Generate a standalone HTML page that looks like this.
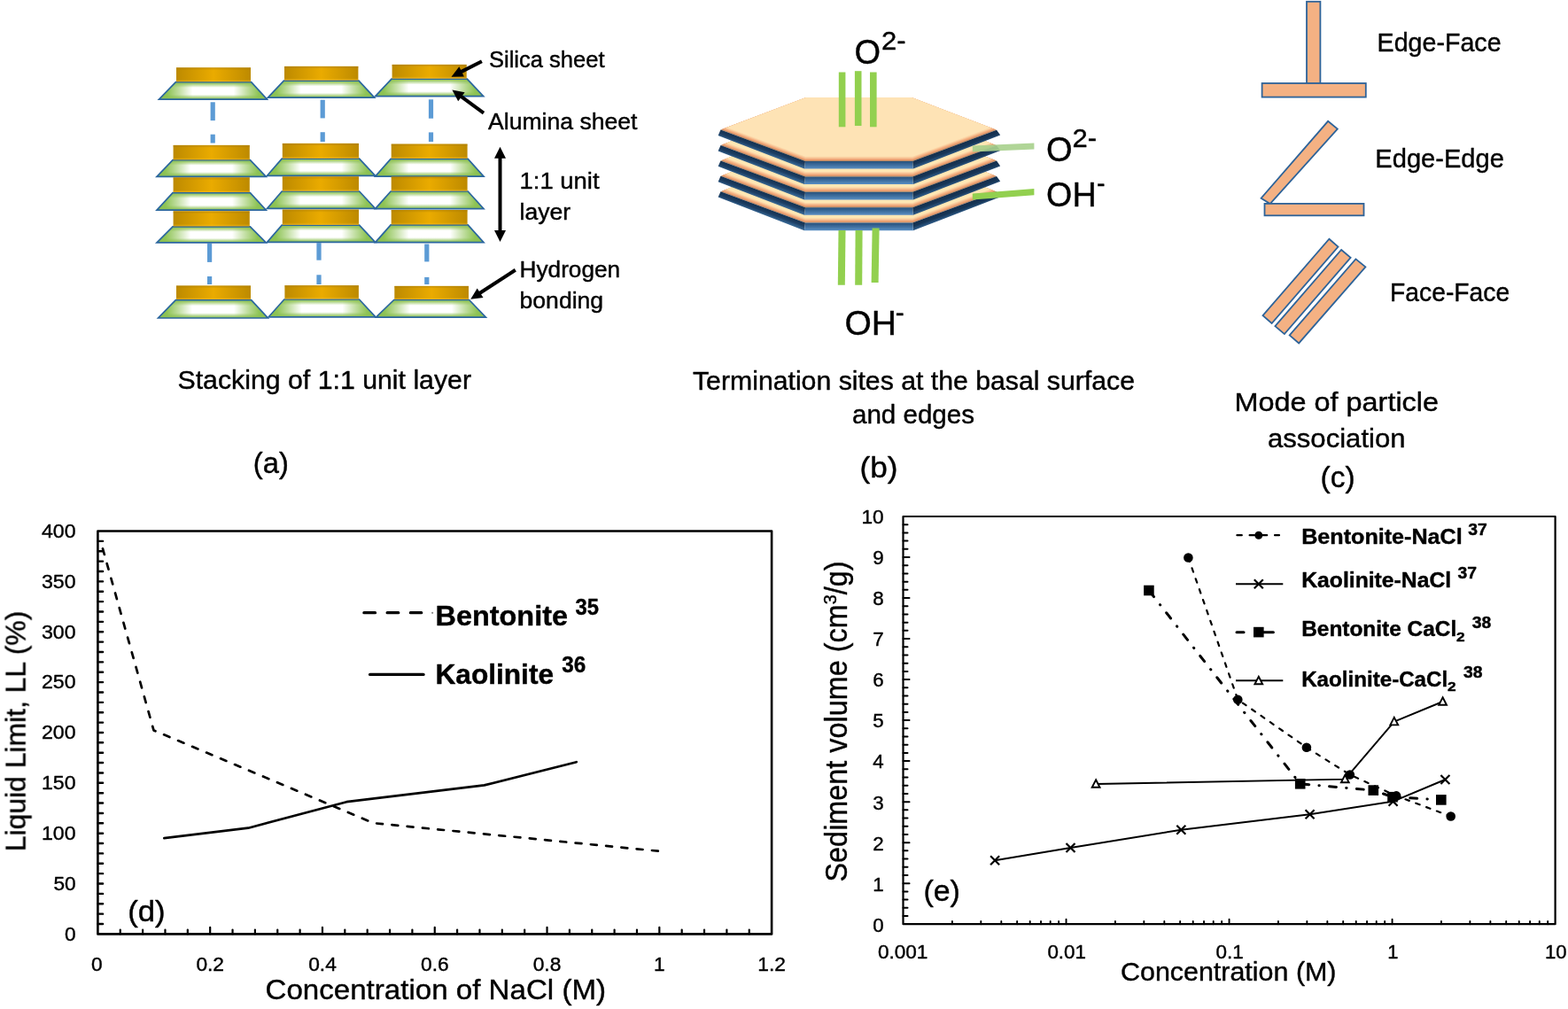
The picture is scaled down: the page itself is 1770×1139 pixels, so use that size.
<!DOCTYPE html>
<html lang="en">
<head>
<meta charset="utf-8">
<title>Clay mineral structure, particle association, liquid limit and sediment volume</title>
<style>
html,body{margin:0;padding:0;background:#fff;}
body{width:1770px;height:1139px;overflow:hidden;}
svg{display:block;font-family:"Liberation Sans", sans-serif;fill:#000;}
svg text{white-space:pre;stroke:#000;stroke-width:0.42px;stroke-linejoin:round;}
</style>
</head>
<body>
<svg width="1770" height="1139" viewBox="0 0 1770 1139"">
<defs>
<linearGradient id="gold" x1="0" y1="0" x2="1" y2="0">
 <stop offset="0" stop-color="#bd8a03"/><stop offset="0.5" stop-color="#eaab00"/><stop offset="1" stop-color="#bd8a03"/>
</linearGradient>
<linearGradient id="goldv" x1="0" y1="0" x2="0" y2="1">
 <stop offset="0" stop-color="#a67700" stop-opacity="0.55"/><stop offset="0.18" stop-color="#a67700" stop-opacity="0"/>
 <stop offset="0.85" stop-color="#ffc21a" stop-opacity="0"/><stop offset="1" stop-color="#ffc21a" stop-opacity="0.5"/>
</linearGradient>
<linearGradient id="front" x1="0" y1="0" x2="0" y2="1">
 <stop offset="0" stop-color="#27507a"/><stop offset="0.45" stop-color="#3c6b9b"/><stop offset="1" stop-color="#5a8fc4"/>
</linearGradient>
<linearGradient id="sideL" gradientUnits="userSpaceOnUse" x1="861" y1="163.8" x2="858.3" y2="171.3">
 <stop offset="0" stop-color="#14304f"/><stop offset="0.55" stop-color="#1c3d62"/><stop offset="1" stop-color="#34638f"/>
</linearGradient>
<linearGradient id="sideR" gradientUnits="userSpaceOnUse" x1="1078" y1="163.8" x2="1080.7" y2="171.3">
 <stop offset="0" stop-color="#122c4a"/><stop offset="0.6" stop-color="#193758"/><stop offset="1" stop-color="#2a5580"/>
</linearGradient>
<linearGradient id="peach" x1="0" y1="0" x2="0" y2="1">
 <stop offset="0" stop-color="#ffe6b4"/><stop offset="0.55" stop-color="#fbcb9b"/><stop offset="1" stop-color="#e9976a"/>
</linearGradient>
<linearGradient id="greenh" x1="0" y1="0" x2="1" y2="0">
 <stop offset="0" stop-color="#86bd4a"/><stop offset="0.08" stop-color="#8fc456"/><stop offset="0.19" stop-color="#c3dfa4"/><stop offset="0.31" stop-color="#ffffff"/>
 <stop offset="0.69" stop-color="#ffffff"/><stop offset="0.81" stop-color="#c3dfa4"/><stop offset="0.92" stop-color="#8fc456"/><stop offset="1" stop-color="#86bd4a"/>
</linearGradient>
<linearGradient id="greenv" x1="0" y1="0" x2="0" y2="1">
 <stop offset="0" stop-color="#8cc152" stop-opacity="1"/><stop offset="0.10" stop-color="#8cc152" stop-opacity="0.8"/><stop offset="0.32" stop-color="#8cc152" stop-opacity="0"/>
 <stop offset="0.72" stop-color="#8cc152" stop-opacity="0"/><stop offset="0.90" stop-color="#8cc152" stop-opacity="0.75"/><stop offset="1" stop-color="#8cc152" stop-opacity="1"/>
</linearGradient>
<filter id="jpeg" filterUnits="userSpaceOnUse" x="0" y="0" width="1770" height="1139"><feGaussianBlur stdDeviation="0.5"/></filter>
</defs>
<rect width="1770" height="1139" fill="#fff" stroke="none"/>
<g filter="url(#jpeg)">
<g id="panel-a">
<rect x="237.6" y="115.3" width="5.2" height="20.8" fill="#5b9bd5"/>
<rect x="237.6" y="151.7" width="5.2" height="9.8" fill="#5b9bd5"/>
<rect x="361.6" y="112.7" width="5.2" height="20.7" fill="#5b9bd5"/>
<rect x="361.6" y="149.2" width="5.2" height="10.8" fill="#5b9bd5"/>
<rect x="483.9" y="112.3" width="5.2" height="21.4" fill="#5b9bd5"/>
<rect x="483.9" y="149.4" width="5.2" height="10.6" fill="#5b9bd5"/>
<rect x="234.0" y="274.7" width="5.2" height="21.2" fill="#5b9bd5"/>
<rect x="234.0" y="312.0" width="5.2" height="9.0" fill="#5b9bd5"/>
<rect x="357.4" y="274.2" width="5.2" height="19.5" fill="#5b9bd5"/>
<rect x="357.4" y="310.3" width="5.2" height="10.7" fill="#5b9bd5"/>
<rect x="479.2" y="275.5" width="5.2" height="19.9" fill="#5b9bd5"/>
<rect x="479.2" y="312.9" width="5.2" height="8.1" fill="#5b9bd5"/>
<polygon points="198.4,92.6 283.6,92.6 301.5,112.2 179.5,112.2" fill="url(#greenh)"/>
<polygon points="198.4,92.6 283.6,92.6 301.5,112.2 179.5,112.2" fill="url(#greenv)" stroke="#2b669f" stroke-width="1.7" stroke-linejoin="miter"/>
<rect x="199.0" y="76.3" width="84.0" height="15.9" fill="url(#gold)"/>
<rect x="199.0" y="76.3" width="84.0" height="15.9" fill="url(#goldv)"/>
<polygon points="195.0,180.6 282.4,180.6 300.3,199.4 177.0,199.4" fill="url(#greenh)"/>
<polygon points="195.0,180.6 282.4,180.6 300.3,199.4 177.0,199.4" fill="url(#greenv)" stroke="#2b669f" stroke-width="1.7" stroke-linejoin="miter"/>
<rect x="195.6" y="163.9" width="86.2" height="16.4" fill="url(#gold)"/>
<rect x="195.6" y="163.9" width="86.2" height="16.4" fill="url(#goldv)"/>
<polygon points="195.0,217.6 282.4,217.6 300.3,237.2 177.0,237.2" fill="url(#greenh)"/>
<polygon points="195.0,217.6 282.4,217.6 300.3,237.2 177.0,237.2" fill="url(#greenv)" stroke="#2b669f" stroke-width="1.7" stroke-linejoin="miter"/>
<rect x="195.6" y="200.3" width="86.2" height="16.7" fill="url(#gold)"/>
<rect x="195.6" y="200.3" width="86.2" height="16.7" fill="url(#goldv)"/>
<polygon points="195.0,255.9 282.4,255.9 300.3,273.9 177.0,273.9" fill="url(#greenh)"/>
<polygon points="195.0,255.9 282.4,255.9 300.3,273.9 177.0,273.9" fill="url(#greenv)" stroke="#2b669f" stroke-width="1.7" stroke-linejoin="miter"/>
<rect x="195.6" y="238.3" width="86.2" height="17.1" fill="url(#gold)"/>
<rect x="195.6" y="238.3" width="86.2" height="17.1" fill="url(#goldv)"/>
<polygon points="198.4,338.6 283.6,338.6 302.4,359.0 178.6,359.0" fill="url(#greenh)"/>
<polygon points="198.4,338.6 283.6,338.6 302.4,359.0 178.6,359.0" fill="url(#greenv)" stroke="#2b669f" stroke-width="1.7" stroke-linejoin="miter"/>
<rect x="199.0" y="322.5" width="84.0" height="15.5" fill="url(#gold)"/>
<rect x="199.0" y="322.5" width="84.0" height="15.5" fill="url(#goldv)"/>
<polygon points="320.4,91.2 405.0,91.2 422.7,110.2 302.4,110.2" fill="url(#greenh)"/>
<polygon points="320.4,91.2 405.0,91.2 422.7,110.2 302.4,110.2" fill="url(#greenv)" stroke="#2b669f" stroke-width="1.7" stroke-linejoin="miter"/>
<rect x="321.0" y="74.9" width="83.4" height="15.7" fill="url(#gold)"/>
<rect x="321.0" y="74.9" width="83.4" height="15.7" fill="url(#goldv)"/>
<polygon points="318.2,179.2 405.6,179.2 423.6,198.3 301.5,198.3" fill="url(#greenh)"/>
<polygon points="318.2,179.2 405.6,179.2 423.6,198.3 301.5,198.3" fill="url(#greenv)" stroke="#2b669f" stroke-width="1.7" stroke-linejoin="miter"/>
<rect x="318.8" y="161.9" width="86.2" height="16.9" fill="url(#gold)"/>
<rect x="318.8" y="161.9" width="86.2" height="16.9" fill="url(#goldv)"/>
<polygon points="318.2,216.0 405.6,216.0 423.6,235.4 301.5,235.4" fill="url(#greenh)"/>
<polygon points="318.2,216.0 405.6,216.0 423.6,235.4 301.5,235.4" fill="url(#greenv)" stroke="#2b669f" stroke-width="1.7" stroke-linejoin="miter"/>
<rect x="318.8" y="199.3" width="86.2" height="16.3" fill="url(#gold)"/>
<rect x="318.8" y="199.3" width="86.2" height="16.3" fill="url(#goldv)"/>
<polygon points="318.2,254.2 405.6,254.2 423.6,273.4 301.5,273.4" fill="url(#greenh)"/>
<polygon points="318.2,254.2 405.6,254.2 423.6,273.4 301.5,273.4" fill="url(#greenv)" stroke="#2b669f" stroke-width="1.7" stroke-linejoin="miter"/>
<rect x="318.8" y="236.6" width="86.2" height="17.2" fill="url(#gold)"/>
<rect x="318.8" y="236.6" width="86.2" height="17.2" fill="url(#goldv)"/>
<polygon points="320.8,338.0 405.5,338.0 424.0,357.8 303.2,357.8" fill="url(#greenh)"/>
<polygon points="320.8,338.0 405.5,338.0 424.0,357.8 303.2,357.8" fill="url(#greenv)" stroke="#2b669f" stroke-width="1.7" stroke-linejoin="miter"/>
<rect x="321.4" y="322.2" width="83.5" height="15.2" fill="url(#gold)"/>
<rect x="321.4" y="322.2" width="83.5" height="15.2" fill="url(#goldv)"/>
<polygon points="442.0,89.2 527.3,89.2 545.7,108.7 423.6,108.7" fill="url(#greenh)"/>
<polygon points="442.0,89.2 527.3,89.2 545.7,108.7 423.6,108.7" fill="url(#greenv)" stroke="#2b669f" stroke-width="1.7" stroke-linejoin="miter"/>
<rect x="442.6" y="72.9" width="84.1" height="15.7" fill="url(#gold)"/>
<rect x="442.6" y="72.9" width="84.1" height="15.7" fill="url(#goldv)"/>
<polygon points="441.1,179.4 528.2,179.4 546.0,199.1 423.6,199.1" fill="url(#greenh)"/>
<polygon points="441.1,179.4 528.2,179.4 546.0,199.1 423.6,199.1" fill="url(#greenv)" stroke="#2b669f" stroke-width="1.7" stroke-linejoin="miter"/>
<rect x="441.7" y="162.6" width="85.9" height="16.3" fill="url(#gold)"/>
<rect x="441.7" y="162.6" width="85.9" height="16.3" fill="url(#goldv)"/>
<polygon points="441.1,216.0 528.2,216.0 546.0,235.7 423.6,235.7" fill="url(#greenh)"/>
<polygon points="441.1,216.0 528.2,216.0 546.0,235.7 423.6,235.7" fill="url(#greenv)" stroke="#2b669f" stroke-width="1.7" stroke-linejoin="miter"/>
<rect x="441.7" y="199.5" width="85.9" height="16.0" fill="url(#gold)"/>
<rect x="441.7" y="199.5" width="85.9" height="16.0" fill="url(#goldv)"/>
<polygon points="441.1,253.9 528.2,253.9 546.0,273.7 423.6,273.7" fill="url(#greenh)"/>
<polygon points="441.1,253.9 528.2,253.9 546.0,273.7 423.6,273.7" fill="url(#greenv)" stroke="#2b669f" stroke-width="1.7" stroke-linejoin="miter"/>
<rect x="441.7" y="237.0" width="85.9" height="16.4" fill="url(#gold)"/>
<rect x="441.7" y="237.0" width="85.9" height="16.4" fill="url(#goldv)"/>
<polygon points="444.7,338.5 529.6,338.5 548.4,358.1 424.5,358.1" fill="url(#greenh)"/>
<polygon points="444.7,338.5 529.6,338.5 548.4,358.1 424.5,358.1" fill="url(#greenv)" stroke="#2b669f" stroke-width="1.7" stroke-linejoin="miter"/>
<rect x="445.3" y="322.9" width="83.7" height="15.0" fill="url(#gold)"/>
<rect x="445.3" y="322.9" width="83.7" height="15.0" fill="url(#goldv)"/>
<line x1="543.9" y1="69.3" x2="519.9" y2="81.4" stroke="#000" stroke-width="4.0"/>
<polygon points="509.5,86.7 518.3,75.3 523.9,86.4" fill="#000"/>
<line x1="546.0" y1="127.7" x2="519.8" y2="108.4" stroke="#000" stroke-width="4.0"/>
<polygon points="510.4,101.5 524.6,104.2 517.2,114.2" fill="#000"/>
<line x1="581.8" y1="304.8" x2="541.0" y2="331.3" stroke="#000" stroke-width="4.0"/>
<polygon points="531.2,337.7 538.7,325.4 545.5,335.9" fill="#000"/>
<line x1="564.5" y1="177.4" x2="564.5" y2="261.4" stroke="#000" stroke-width="4.0"/>
<polygon points="564.5,273.1 558.0,260.1 571.0,260.1" fill="#000"/>
<polygon points="564.5,165.7 558.0,178.7 571.0,178.7" fill="#000"/>
<text x="552.0" y="76.2" font-size="25.2" textLength="130.5" lengthAdjust="spacingAndGlyphs">Silica sheet</text>
<text x="551.0" y="146.3" font-size="25.2" textLength="168.5" lengthAdjust="spacingAndGlyphs">Alumina sheet</text>
<text x="586.6" y="212.9" font-size="25.2" textLength="90.0" lengthAdjust="spacingAndGlyphs">1:1 unit</text>
<text x="586.6" y="247.8" font-size="25.2" textLength="57.5" lengthAdjust="spacingAndGlyphs">layer</text>
<text x="586.6" y="312.9" font-size="25.2" textLength="113.5" lengthAdjust="spacingAndGlyphs">Hydrogen</text>
<text x="586.6" y="347.8" font-size="25.2" textLength="94.5" lengthAdjust="spacingAndGlyphs">bonding</text>
<text x="200.5" y="438.8" font-size="29.3" textLength="331.5" lengthAdjust="spacingAndGlyphs">Stacking of 1:1 unit layer</text>
<text x="285.8" y="534.0" font-size="34" textLength="40.0" lengthAdjust="spacingAndGlyphs">(a)</text>
</g>
<g id="panel-b">
<g transform="translate(0 69.6)">
<polygon points="910.0,110.0 1029.0,110.0 1125.0,146.8 1030.2,182.0 909.0,182.0 813.5,146.6" fill="#b98a66"/>
<polygon points="910.0,110.0 1029.0,110.0 1123.8,146.3 1030.2,181.1 909.0,181.1 814.7,146.1" fill="#ea9c6e"/>
<polygon points="910.0,110.0 1029.0,110.0 1122.3,145.8 1030.2,180.0 909.0,180.0 816.2,145.6" fill="#f2ad7e"/>
<polygon points="910.0,110.0 1029.0,110.0 1120.8,145.2 1030.2,178.9 909.0,178.9 817.7,145.0" fill="#f8c293"/>
<polygon points="910.0,110.0 1029.0,110.0 1119.4,144.7 1030.2,177.8 909.0,177.8 819.1,144.5" fill="#fcd5a6"/>
<polygon points="910.0,110.0 1029.0,110.0 1117.9,144.1 1030.2,176.7 909.0,176.7 820.6,143.9" fill="#ffe7b4"/>
<polygon points="813.5,146.6 909.0,182.0 908.0,190.6 810.6,153.0" fill="url(#sideL)"/>
<polygon points="1030.2,182.0 1125.0,146.8 1129.2,152.6 1030.8,190.6" fill="url(#sideR)"/>
<polygon points="909.0,182.0 1030.2,182.0 1030.8,190.6 908.0,190.6" fill="url(#front)"/>
</g>
<g transform="translate(0 52.2)">
<polygon points="910.0,110.0 1029.0,110.0 1125.0,146.8 1030.2,182.0 909.0,182.0 813.5,146.6" fill="#b98a66"/>
<polygon points="910.0,110.0 1029.0,110.0 1123.8,146.3 1030.2,181.1 909.0,181.1 814.7,146.1" fill="#ea9c6e"/>
<polygon points="910.0,110.0 1029.0,110.0 1122.3,145.8 1030.2,180.0 909.0,180.0 816.2,145.6" fill="#f2ad7e"/>
<polygon points="910.0,110.0 1029.0,110.0 1120.8,145.2 1030.2,178.9 909.0,178.9 817.7,145.0" fill="#f8c293"/>
<polygon points="910.0,110.0 1029.0,110.0 1119.4,144.7 1030.2,177.8 909.0,177.8 819.1,144.5" fill="#fcd5a6"/>
<polygon points="910.0,110.0 1029.0,110.0 1117.9,144.1 1030.2,176.7 909.0,176.7 820.6,143.9" fill="#ffe7b4"/>
<polygon points="813.5,146.6 909.0,182.0 908.0,190.6 810.6,153.0" fill="url(#sideL)"/>
<polygon points="1030.2,182.0 1125.0,146.8 1129.2,152.6 1030.8,190.6" fill="url(#sideR)"/>
<polygon points="909.0,182.0 1030.2,182.0 1030.8,190.6 908.0,190.6" fill="url(#front)"/>
</g>
<g transform="translate(0 34.8)">
<polygon points="910.0,110.0 1029.0,110.0 1125.0,146.8 1030.2,182.0 909.0,182.0 813.5,146.6" fill="#b98a66"/>
<polygon points="910.0,110.0 1029.0,110.0 1123.8,146.3 1030.2,181.1 909.0,181.1 814.7,146.1" fill="#ea9c6e"/>
<polygon points="910.0,110.0 1029.0,110.0 1122.3,145.8 1030.2,180.0 909.0,180.0 816.2,145.6" fill="#f2ad7e"/>
<polygon points="910.0,110.0 1029.0,110.0 1120.8,145.2 1030.2,178.9 909.0,178.9 817.7,145.0" fill="#f8c293"/>
<polygon points="910.0,110.0 1029.0,110.0 1119.4,144.7 1030.2,177.8 909.0,177.8 819.1,144.5" fill="#fcd5a6"/>
<polygon points="910.0,110.0 1029.0,110.0 1117.9,144.1 1030.2,176.7 909.0,176.7 820.6,143.9" fill="#ffe7b4"/>
<polygon points="813.5,146.6 909.0,182.0 908.0,190.6 810.6,153.0" fill="url(#sideL)"/>
<polygon points="1030.2,182.0 1125.0,146.8 1129.2,152.6 1030.8,190.6" fill="url(#sideR)"/>
<polygon points="909.0,182.0 1030.2,182.0 1030.8,190.6 908.0,190.6" fill="url(#front)"/>
</g>
<g transform="translate(0 17.4)">
<polygon points="910.0,110.0 1029.0,110.0 1125.0,146.8 1030.2,182.0 909.0,182.0 813.5,146.6" fill="#b98a66"/>
<polygon points="910.0,110.0 1029.0,110.0 1123.8,146.3 1030.2,181.1 909.0,181.1 814.7,146.1" fill="#ea9c6e"/>
<polygon points="910.0,110.0 1029.0,110.0 1122.3,145.8 1030.2,180.0 909.0,180.0 816.2,145.6" fill="#f2ad7e"/>
<polygon points="910.0,110.0 1029.0,110.0 1120.8,145.2 1030.2,178.9 909.0,178.9 817.7,145.0" fill="#f8c293"/>
<polygon points="910.0,110.0 1029.0,110.0 1119.4,144.7 1030.2,177.8 909.0,177.8 819.1,144.5" fill="#fcd5a6"/>
<polygon points="910.0,110.0 1029.0,110.0 1117.9,144.1 1030.2,176.7 909.0,176.7 820.6,143.9" fill="#ffe7b4"/>
<polygon points="813.5,146.6 909.0,182.0 908.0,190.6 810.6,153.0" fill="url(#sideL)"/>
<polygon points="1030.2,182.0 1125.0,146.8 1129.2,152.6 1030.8,190.6" fill="url(#sideR)"/>
<polygon points="909.0,182.0 1030.2,182.0 1030.8,190.6 908.0,190.6" fill="url(#front)"/>
</g>
<g transform="translate(0 0.0)">
<polygon points="910.0,110.0 1029.0,110.0 1125.0,146.8 1030.2,182.0 909.0,182.0 813.5,146.6" fill="#b98a66"/>
<polygon points="910.0,110.0 1029.0,110.0 1123.8,146.3 1030.2,181.1 909.0,181.1 814.7,146.1" fill="#ea9c6e"/>
<polygon points="910.0,110.0 1029.0,110.0 1122.3,145.8 1030.2,180.0 909.0,180.0 816.2,145.6" fill="#f2ad7e"/>
<polygon points="910.0,110.0 1029.0,110.0 1120.8,145.2 1030.2,178.9 909.0,178.9 817.7,145.0" fill="#f8c293"/>
<polygon points="910.0,110.0 1029.0,110.0 1119.4,144.7 1030.2,177.8 909.0,177.8 819.1,144.5" fill="#fcd5a6"/>
<polygon points="910.0,110.0 1029.0,110.0 1117.9,144.1 1030.2,176.7 909.0,176.7 820.6,143.9" fill="#fee3b5"/>
<polygon points="813.5,146.6 909.0,182.0 908.0,190.6 810.6,153.0" fill="url(#sideL)"/>
<polygon points="1030.2,182.0 1125.0,146.8 1129.2,152.6 1030.8,190.6" fill="url(#sideR)"/>
<polygon points="909.0,182.0 1030.2,182.0 1030.8,190.6 908.0,190.6" fill="url(#front)"/>
</g>
<polygon points="946.5,260.0 954.5,260.0 953.8,321.7 945.8,321.7" fill="#92d050"/>
<polygon points="965.6,260.0 973.6,260.0 973.2,321.7 965.2,321.7" fill="#92d050"/>
<polygon points="984.6,257.4 992.6,257.4 991.6,319.0 983.6,319.0" fill="#92d050"/>
<polygon points="1097.8,218.6 1167.4,213.0 1167.4,220.2 1097.8,225.6" fill="#92d050"/>
<polygon points="1097.8,164.4 1167.4,161.6 1167.4,168.6 1097.8,171.4" fill="#a9d18e" fill-opacity="0.92"/>
<rect x="946.8" y="81.5" width="7.6" height="61.8" fill="#92d050"/>
<rect x="964.9" y="80.2" width="7.6" height="61.8" fill="#92d050"/>
<rect x="982.0" y="81.5" width="7.6" height="61.8" fill="#92d050"/>
<text><tspan x="964.6" y="71.7" font-size="39.5" textLength="29.6" lengthAdjust="spacingAndGlyphs">O</tspan><tspan x="995.0" y="55.6" font-size="30" textLength="27.5" lengthAdjust="spacingAndGlyphs">2-</tspan></text>
<text><tspan x="1181.1" y="181.6" font-size="39.5" textLength="29.6" lengthAdjust="spacingAndGlyphs">O</tspan><tspan x="1210.6" y="166.2" font-size="30" textLength="27.5" lengthAdjust="spacingAndGlyphs">2-</tspan></text>
<text><tspan x="1181.1" y="233.0" font-size="39.5" textLength="56.5" lengthAdjust="spacingAndGlyphs">OH</tspan><tspan x="1238.0" y="217.0" font-size="30" textLength="9.5" lengthAdjust="spacingAndGlyphs">-</tspan></text>
<text><tspan x="953.5" y="378.0" font-size="39.5" textLength="58.5" lengthAdjust="spacingAndGlyphs">OH</tspan><tspan x="1010.8" y="362.8" font-size="30" textLength="10.0" lengthAdjust="spacingAndGlyphs">-</tspan></text>
<text x="782.0" y="439.9" font-size="29.3" textLength="499.0" lengthAdjust="spacingAndGlyphs">Termination sites at the basal surface</text>
<text x="962.0" y="478.1" font-size="29.3" textLength="138.0" lengthAdjust="spacingAndGlyphs">and edges</text>
<text x="970.6" y="538.6" font-size="34" textLength="43.0" lengthAdjust="spacingAndGlyphs">(b)</text>
</g>
<g id="panel-c" fill="#f4b183" stroke="#2d6399" stroke-width="1.8" stroke-linejoin="miter">
<rect x="1475.0" y="1.8" width="15.4" height="92.5"/>
<rect x="1424.6" y="94.0" width="117.2" height="15.6"/>
<polygon points="1499.1,136.8 1509.8,145.5 1433.7,230.0 1423.6,223.7"/>
<rect x="1427.5" y="229.9" width="112.0" height="13.4"/>
<polygon points="1500.4,269.7 1510.5,278.6 1435.6,365.0 1425.5,356.1"/>
<polygon points="1514.1,282.0 1524.6,290.9 1449.9,377.1 1439.4,368.2"/>
<polygon points="1530.4,292.4 1541.4,301.3 1466.2,387.4 1455.7,378.5"/>
</g>
<g id="panel-c-text">
<text x="1554.6" y="58.2" font-size="30.4" textLength="140.0" lengthAdjust="spacingAndGlyphs">Edge-Face</text>
<text x="1552.3" y="188.8" font-size="30.4" textLength="145.6" lengthAdjust="spacingAndGlyphs">Edge-Edge</text>
<text x="1569.1" y="339.9" font-size="30.4" textLength="135.0" lengthAdjust="spacingAndGlyphs">Face-Face</text>
<text x="1393.5" y="463.6" font-size="30" textLength="230.5" lengthAdjust="spacingAndGlyphs">Mode of particle</text>
<text x="1431.0" y="504.7" font-size="30" textLength="155.5" lengthAdjust="spacingAndGlyphs">association</text>
<text x="1490.6" y="549.9" font-size="34" textLength="39.0" lengthAdjust="spacingAndGlyphs">(c)</text>
</g>
<g id="chart-d">
<rect x="110.4" y="599.5" width="760.7" height="454.9000000000001" fill="none" stroke="#000" stroke-width="2.6" stroke-linejoin="round"/>
<path d="M110.4 1043.03h5.7M110.4 1031.66h5.7M110.4 1020.28h5.7M110.4 1008.91h5.7M110.4 997.54h5.7M110.4 986.17h5.7M110.4 974.79h5.7M110.4 963.42h5.7M110.4 952.05h5.7M110.4 940.68h5.7M110.4 929.30h5.7M110.4 917.93h5.7M110.4 906.56h5.7M110.4 895.19h5.7M110.4 883.81h5.7M110.4 872.44h5.7M110.4 861.07h5.7M110.4 849.70h5.7M110.4 838.32h5.7M110.4 826.95h5.7M110.4 815.58h5.7M110.4 804.21h5.7M110.4 792.83h5.7M110.4 781.46h5.7M110.4 770.09h5.7M110.4 758.72h5.7M110.4 747.34h5.7M110.4 735.97h5.7M110.4 724.60h5.7M110.4 713.23h5.7M110.4 701.85h5.7M110.4 690.48h5.7M110.4 679.11h5.7M110.4 667.74h5.7M110.4 656.36h5.7M110.4 644.99h5.7M110.4 633.62h5.7M110.4 622.25h5.7M110.4 610.87h5.7" stroke="#000" stroke-width="2.4" stroke-linecap="round" fill="none"/>
<path d="M135.76 1054.4v-4.8M161.11 1054.4v-4.8M186.47 1054.4v-4.8M211.83 1054.4v-4.8M237.18 1054.4v-7.6M262.54 1054.4v-4.8M287.90 1054.4v-4.8M313.25 1054.4v-4.8M338.61 1054.4v-4.8M363.97 1054.4v-7.6M389.32 1054.4v-4.8M414.68 1054.4v-4.8M440.04 1054.4v-4.8M465.39 1054.4v-4.8M490.75 1054.4v-7.6M516.11 1054.4v-4.8M541.46 1054.4v-4.8M566.82 1054.4v-4.8M592.18 1054.4v-4.8M617.53 1054.4v-7.6M642.89 1054.4v-4.8M668.25 1054.4v-4.8M693.60 1054.4v-4.8M718.96 1054.4v-4.8M744.32 1054.4v-7.6M769.67 1054.4v-4.8M795.03 1054.4v-4.8M820.39 1054.4v-4.8M845.74 1054.4v-4.8" stroke="#000" stroke-width="2.2" stroke-linecap="round" fill="none"/>
<text x="85.6" y="1061.7" font-size="22.3" text-anchor="end" textLength="12.6" lengthAdjust="spacingAndGlyphs">0</text>
<text x="85.6" y="1004.8" font-size="22.3" text-anchor="end" textLength="25.2" lengthAdjust="spacingAndGlyphs">50</text>
<text x="85.6" y="948.0" font-size="22.3" text-anchor="end" textLength="38.6" lengthAdjust="spacingAndGlyphs">100</text>
<text x="85.6" y="891.1" font-size="22.3" text-anchor="end" textLength="38.6" lengthAdjust="spacingAndGlyphs">150</text>
<text x="85.6" y="834.2" font-size="22.3" text-anchor="end" textLength="38.6" lengthAdjust="spacingAndGlyphs">200</text>
<text x="85.6" y="777.4" font-size="22.3" text-anchor="end" textLength="38.6" lengthAdjust="spacingAndGlyphs">250</text>
<text x="85.6" y="720.5" font-size="22.3" text-anchor="end" textLength="38.6" lengthAdjust="spacingAndGlyphs">300</text>
<text x="85.6" y="663.7" font-size="22.3" text-anchor="end" textLength="38.6" lengthAdjust="spacingAndGlyphs">350</text>
<text x="85.6" y="606.8" font-size="22.3" text-anchor="end" textLength="38.6" lengthAdjust="spacingAndGlyphs">400</text>
<text x="109.4" y="1095.7" font-size="22.3" text-anchor="middle" textLength="12.6" lengthAdjust="spacingAndGlyphs">0</text>
<text x="237.2" y="1095.7" font-size="22.3" text-anchor="middle" textLength="31.6" lengthAdjust="spacingAndGlyphs">0.2</text>
<text x="364.0" y="1095.7" font-size="22.3" text-anchor="middle" textLength="31.6" lengthAdjust="spacingAndGlyphs">0.4</text>
<text x="490.8" y="1095.7" font-size="22.3" text-anchor="middle" textLength="31.6" lengthAdjust="spacingAndGlyphs">0.6</text>
<text x="617.5" y="1095.7" font-size="22.3" text-anchor="middle" textLength="31.6" lengthAdjust="spacingAndGlyphs">0.8</text>
<text x="744.3" y="1095.7" font-size="22.3" text-anchor="middle" textLength="12.6" lengthAdjust="spacingAndGlyphs">1</text>
<text x="871.1" y="1095.7" font-size="22.3" text-anchor="middle" textLength="31.6" lengthAdjust="spacingAndGlyphs">1.2</text>
<text x="299.5" y="1128.3" font-size="32" textLength="384.5" lengthAdjust="spacingAndGlyphs">Concentration of NaCl (M)</text>
<text transform="translate(28.6 961.2) rotate(-90)" font-size="32" textLength="271.5" lengthAdjust="spacingAndGlyphs">Liquid Limit, LL (%)</text>
<text x="144.2" y="1040.0" font-size="34" textLength="42.4" lengthAdjust="spacingAndGlyphs">(d)</text>
<polyline points="115.6,618.0 173.5,824.4 421.8,929.2 745.0,960.9" fill="none" stroke="#000" stroke-width="2.7" stroke-dasharray="6.9 10.45" stroke-dashoffset="-1.4" stroke-linecap="round" stroke-linejoin="round"/>
<polyline points="185.3,946.1 280.2,934.7 391.2,905.2 546.7,886.4 650.7,860.2" fill="none" stroke="#000" stroke-width="2.7" stroke-linecap="round" stroke-linejoin="round"/>
<line x1="410.9" y1="691.7" x2="475.7" y2="691.7" stroke="#000" stroke-width="3.3" stroke-dasharray="12.6 13.65" stroke-linecap="round"/>
<line x1="417.6" y1="761.4" x2="478.0" y2="761.4" stroke="#000" stroke-width="3.3" stroke-linecap="round"/>
<circle cx="488.1" cy="691.8" r="1.1" fill="#8a8a8a"/>
<text font-weight="bold"><tspan x="491.5" y="705.7" font-size="31.6" textLength="149.5" lengthAdjust="spacingAndGlyphs">Bentonite</tspan><tspan font-size="0.1"> </tspan><tspan x="649.5" y="693.7" font-size="25.5" textLength="26.5" lengthAdjust="spacingAndGlyphs">35</tspan></text>
<text font-weight="bold"><tspan x="491.5" y="771.8" font-size="31.6" textLength="133.5" lengthAdjust="spacingAndGlyphs">Kaolinite</tspan><tspan font-size="0.1"> </tspan><tspan x="634.2" y="759.3" font-size="25.5" textLength="27.0" lengthAdjust="spacingAndGlyphs">36</tspan></text>
</g>
<g id="chart-e">
<rect x="1019.5" y="583.0" width="736.1" height="460.20000000000005" fill="none" stroke="#000" stroke-width="2.2" stroke-linejoin="round"/>
<path d="M1019.5 1034.00h5.0M1019.5 1024.79h5.0M1019.5 1015.59h5.0M1019.5 1006.38h5.0M1019.5 997.18h7.0M1019.5 987.98h5.0M1019.5 978.77h5.0M1019.5 969.57h5.0M1019.5 960.36h5.0M1019.5 951.16h7.0M1019.5 941.96h5.0M1019.5 932.75h5.0M1019.5 923.55h5.0M1019.5 914.34h5.0M1019.5 905.14h7.0M1019.5 895.94h5.0M1019.5 886.73h5.0M1019.5 877.53h5.0M1019.5 868.32h5.0M1019.5 859.12h7.0M1019.5 849.92h5.0M1019.5 840.71h5.0M1019.5 831.51h5.0M1019.5 822.30h5.0M1019.5 813.10h7.0M1019.5 803.90h5.0M1019.5 794.69h5.0M1019.5 785.49h5.0M1019.5 776.28h5.0M1019.5 767.08h7.0M1019.5 757.88h5.0M1019.5 748.67h5.0M1019.5 739.47h5.0M1019.5 730.26h5.0M1019.5 721.06h7.0M1019.5 711.86h5.0M1019.5 702.65h5.0M1019.5 693.45h5.0M1019.5 684.24h5.0M1019.5 675.04h7.0M1019.5 665.84h5.0M1019.5 656.63h5.0M1019.5 647.43h5.0M1019.5 638.22h5.0M1019.5 629.02h7.0M1019.5 619.82h5.0M1019.5 610.61h5.0M1019.5 601.41h5.0M1019.5 592.20h5.0" stroke="#000" stroke-width="2" stroke-linecap="round" fill="none"/>
<path d="M1074.90 1043.2v-3.2M1107.30 1043.2v-3.2M1130.29 1043.2v-3.2M1148.13 1043.2v-3.2M1162.70 1043.2v-3.2M1175.02 1043.2v-3.2M1185.69 1043.2v-3.2M1195.10 1043.2v-3.2M1203.53 1043.2v-5.4M1258.92 1043.2v-3.2M1291.33 1043.2v-3.2M1314.32 1043.2v-3.2M1332.15 1043.2v-3.2M1346.72 1043.2v-3.2M1359.04 1043.2v-3.2M1369.72 1043.2v-3.2M1379.13 1043.2v-3.2M1387.55 1043.2v-5.4M1442.95 1043.2v-3.2M1475.35 1043.2v-3.2M1498.34 1043.2v-3.2M1516.18 1043.2v-3.2M1530.75 1043.2v-3.2M1543.07 1043.2v-3.2M1553.74 1043.2v-3.2M1563.15 1043.2v-3.2M1571.57 1043.2v-5.4M1626.97 1043.2v-3.2M1659.38 1043.2v-3.2M1682.37 1043.2v-3.2M1700.20 1043.2v-3.2M1714.77 1043.2v-3.2M1727.09 1043.2v-3.2M1737.77 1043.2v-3.2M1747.18 1043.2v-3.2" stroke="#000" stroke-width="1.9" stroke-linecap="round" fill="none"/>
<text x="997.6" y="1052.0" font-size="22.2" text-anchor="end" textLength="12.4" lengthAdjust="spacingAndGlyphs">0</text>
<text x="997.6" y="1005.8" font-size="22.2" text-anchor="end" textLength="12.4" lengthAdjust="spacingAndGlyphs">1</text>
<text x="997.6" y="959.7" font-size="22.2" text-anchor="end" textLength="12.4" lengthAdjust="spacingAndGlyphs">2</text>
<text x="997.6" y="913.5" font-size="22.2" text-anchor="end" textLength="12.4" lengthAdjust="spacingAndGlyphs">3</text>
<text x="997.6" y="867.4" font-size="22.2" text-anchor="end" textLength="12.4" lengthAdjust="spacingAndGlyphs">4</text>
<text x="997.6" y="821.2" font-size="22.2" text-anchor="end" textLength="12.4" lengthAdjust="spacingAndGlyphs">5</text>
<text x="997.6" y="775.1" font-size="22.2" text-anchor="end" textLength="12.4" lengthAdjust="spacingAndGlyphs">6</text>
<text x="997.6" y="729.0" font-size="22.2" text-anchor="end" textLength="12.4" lengthAdjust="spacingAndGlyphs">7</text>
<text x="997.6" y="682.8" font-size="22.2" text-anchor="end" textLength="12.4" lengthAdjust="spacingAndGlyphs">8</text>
<text x="997.6" y="636.7" font-size="22.2" text-anchor="end" textLength="12.4" lengthAdjust="spacingAndGlyphs">9</text>
<text x="997.6" y="590.5" font-size="22.2" text-anchor="end" textLength="25.2" lengthAdjust="spacingAndGlyphs">10</text>
<text x="1019.2" y="1081.5" font-size="21.6" text-anchor="middle" textLength="56.5" lengthAdjust="spacingAndGlyphs">0.001</text>
<text x="1204.2" y="1081.5" font-size="21.6" text-anchor="middle" textLength="43.5" lengthAdjust="spacingAndGlyphs">0.01</text>
<text x="1388.2" y="1081.5" font-size="21.6" text-anchor="middle" textLength="31.2" lengthAdjust="spacingAndGlyphs">0.1</text>
<text x="1572.3" y="1081.5" font-size="21.6" text-anchor="middle" textLength="12.2" lengthAdjust="spacingAndGlyphs">1</text>
<text x="1756.3" y="1081.5" font-size="21.6" text-anchor="middle" textLength="24.6" lengthAdjust="spacingAndGlyphs">10</text>
<text x="1265.0" y="1107.0" font-size="29" textLength="243.5" lengthAdjust="spacingAndGlyphs">Concentration (M)</text>
<text transform="translate(956.2 995.5) rotate(-90)" font-size="34.5" textLength="362.0" lengthAdjust="spacingAndGlyphs">Sediment volume (cm<tspan font-size="21" dy="-12">3</tspan><tspan dy="12">/g)</tspan></text>
<text x="1042.4" y="1016.8" font-size="34" textLength="41.5" lengthAdjust="spacingAndGlyphs">(e)</text>
<polyline points="1123.1,971.2 1208.5,957.0 1333.3,936.7 1478.6,919.2 1572.6,904.7 1631.4,880.0" fill="none" stroke="#000" stroke-width="1.9" stroke-linecap="round" stroke-linejoin="round"/>
<polyline points="1237.1,885.0 1518.3,879.6 1573.8,814.7 1628.6,792.0" fill="none" stroke="#000" stroke-width="1.9" stroke-linecap="round" stroke-linejoin="round"/>
<polyline points="1341.4,629.5 1397.3,789.7 1474.9,843.8 1523.8,874.5 1576.2,898.4 1637.7,921.5" fill="none" stroke="#000" stroke-width="2.2" stroke-dasharray="4.6 8.0" stroke-linecap="round"/>
<polyline points="1296.9,666.5 1467.7,884.8 1550.3,892.1 1572.0,899.7 1626.8,902.9" fill="none" stroke="#000" stroke-width="3.0" stroke-dasharray="7.9 11.3 0.4 11.3" stroke-dashoffset="-1.2" stroke-linecap="round"/>
<path d="M1118.1 966.2L1128.1 976.2M1118.1 976.2L1128.1 966.2" stroke="#000" stroke-width="2.2" fill="none"/>
<path d="M1203.5 952.0L1213.5 962.0M1203.5 962.0L1213.5 952.0" stroke="#000" stroke-width="2.2" fill="none"/>
<path d="M1328.3 931.7L1338.3 941.7M1328.3 941.7L1338.3 931.7" stroke="#000" stroke-width="2.2" fill="none"/>
<path d="M1473.6 914.2L1483.6 924.2M1473.6 924.2L1483.6 914.2" stroke="#000" stroke-width="2.2" fill="none"/>
<path d="M1567.6 899.7L1577.6 909.7M1567.6 909.7L1577.6 899.7" stroke="#000" stroke-width="2.2" fill="none"/>
<path d="M1626.4 875.0L1636.4 885.0M1626.4 885.0L1636.4 875.0" stroke="#000" stroke-width="2.2" fill="none"/>
<circle cx="1341.4" cy="629.5" r="5.3" fill="#000"/>
<circle cx="1397.3" cy="789.7" r="5.3" fill="#000"/>
<circle cx="1474.9" cy="843.8" r="5.3" fill="#000"/>
<circle cx="1523.8" cy="874.5" r="5.3" fill="#000"/>
<circle cx="1576.2" cy="898.4" r="5.3" fill="#000"/>
<circle cx="1637.7" cy="921.5" r="5.3" fill="#000"/>
<rect x="1291.1" y="660.7" width="11.6" height="11.6" fill="#000"/>
<rect x="1461.9" y="879.0" width="11.6" height="11.6" fill="#000"/>
<rect x="1544.5" y="886.3" width="11.6" height="11.6" fill="#000"/>
<rect x="1566.2" y="893.9" width="11.6" height="11.6" fill="#000"/>
<rect x="1621.0" y="897.1" width="11.6" height="11.6" fill="#000"/>
<polygon points="1237.1,880.2 1241.5,888.7 1232.7,888.7" fill="#fff" stroke="#000" stroke-width="1.9" stroke-linejoin="miter"/>
<polygon points="1518.3,874.8 1522.7,883.3 1513.9,883.3" fill="#fff" stroke="#000" stroke-width="1.9" stroke-linejoin="miter"/>
<polygon points="1573.8,809.9 1578.2,818.4 1569.4,818.4" fill="#fff" stroke="#000" stroke-width="1.9" stroke-linejoin="miter"/>
<polygon points="1628.6,787.2 1633.0,795.7 1624.2,795.7" fill="#fff" stroke="#000" stroke-width="1.9" stroke-linejoin="miter"/>
<line x1="1396.4" y1="604.2" x2="1444.0" y2="604.2" stroke="#000" stroke-width="2.2" stroke-dasharray="5.4 8.8" stroke-linecap="round"/>
<circle cx="1420.8" cy="604.2" r="4.5" fill="#000"/>
<line x1="1395.0" y1="659.2" x2="1448.3" y2="659.2" stroke="#000" stroke-width="1.9"/>
<path d="M1415.8 654.2L1425.8 664.2M1415.8 664.2L1425.8 654.2" stroke="#000" stroke-width="2.2" fill="none"/>
<line x1="1396.0" y1="713.7" x2="1404.0" y2="713.7" stroke="#000" stroke-width="3" stroke-linecap="round"/>
<line x1="1426" y1="713.7" x2="1437.4" y2="713.7" stroke="#000" stroke-width="3" stroke-linecap="round"/>
<rect x="1415.0" y="707.8" width="11.6" height="11.6" fill="#000"/>
<line x1="1395.0" y1="768.3" x2="1448.3" y2="768.3" stroke="#000" stroke-width="1.9"/>
<polygon points="1420.8,763.8 1425.2,772.3 1416.4,772.3" fill="#fff" stroke="#000" stroke-width="1.9" stroke-linejoin="miter"/>
<text font-weight="bold"><tspan x="1469.2" y="613.6" font-size="23.6" textLength="181.5" lengthAdjust="spacingAndGlyphs">Bentonite-NaCl</tspan><tspan font-size="0.1"> </tspan><tspan x="1657.3" y="603.6" font-size="17.5" textLength="21.5" lengthAdjust="spacingAndGlyphs">37</tspan></text>
<text font-weight="bold"><tspan x="1469.2" y="663.0" font-size="23.6" textLength="169.0" lengthAdjust="spacingAndGlyphs">Kaolinite-NaCl</tspan><tspan font-size="0.1"> </tspan><tspan x="1645.4" y="653.4" font-size="17.5" textLength="21.5" lengthAdjust="spacingAndGlyphs">37</tspan></text>
<text font-weight="bold"><tspan x="1469.2" y="718.3" font-size="23.6" textLength="175.0" lengthAdjust="spacingAndGlyphs">Bentonite CaCl</tspan><tspan x="1644.0" y="723.8" font-size="15.5" textLength="9.6" lengthAdjust="spacingAndGlyphs">2</tspan><tspan font-size="0.1"> </tspan><tspan x="1661.7" y="708.5" font-size="17.5" textLength="21.5" lengthAdjust="spacingAndGlyphs">38</tspan></text>
<text font-weight="bold"><tspan x="1469.2" y="774.9" font-size="23.6" textLength="165.0" lengthAdjust="spacingAndGlyphs">Kaolinite-CaCl</tspan><tspan x="1634.1" y="780.4" font-size="15.5" textLength="9.6" lengthAdjust="spacingAndGlyphs">2</tspan><tspan font-size="0.1"> </tspan><tspan x="1652.0" y="765.1" font-size="17.5" textLength="21.5" lengthAdjust="spacingAndGlyphs">38</tspan></text>
</g>
</g>
</svg>
</body>
</html>
